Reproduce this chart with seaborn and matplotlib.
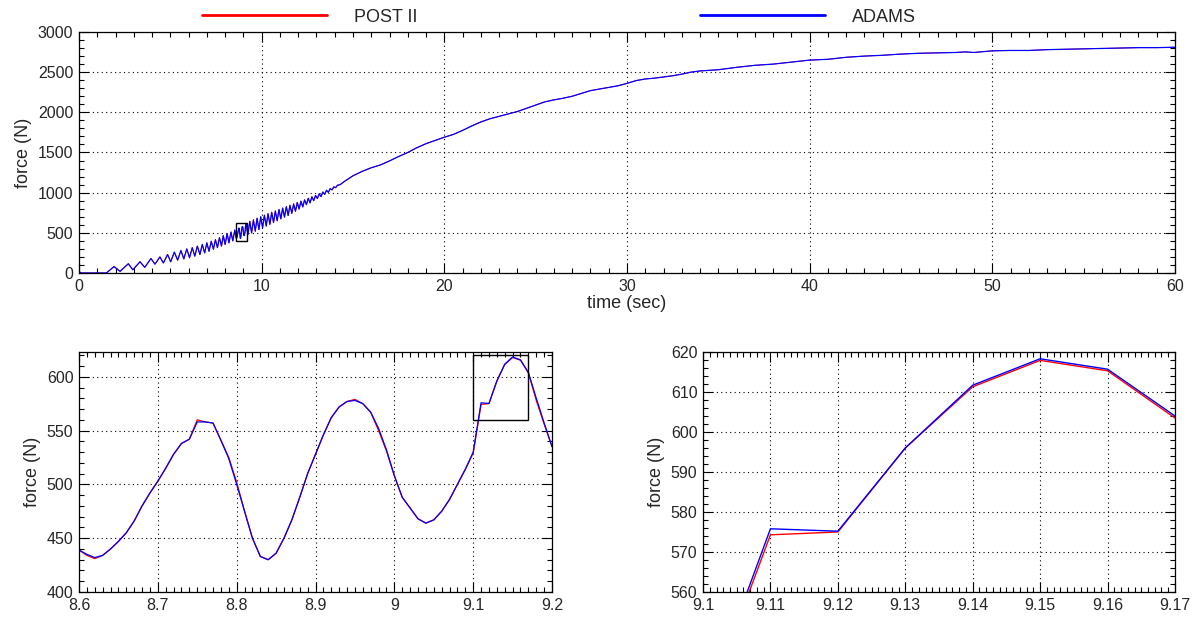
import numpy as np
import pandas as pd
import matplotlib
matplotlib.use("Agg")
import matplotlib.pyplot as plt
import seaborn as sns
from matplotlib.ticker import MultipleLocator
from matplotlib.patches import Rectangle

# ---------------- data ----------------
# top panel, before the detail window (oscillation extremes)
t_early = [0.0, 0.1, 1.5, 1.92, 2.25, 2.7, 2.95, 3.34, 3.6, 3.94, 4.16, 4.43, 4.62,
           4.85, 5.02, 5.22, 5.40, 5.58, 5.74, 5.90, 6.05, 6.20, 6.34, 6.48, 6.62,
           6.75, 6.88, 7.00, 7.12, 7.24, 7.36, 7.47, 7.58, 7.69, 7.80, 7.90, 8.00,
           8.11, 8.21, 8.32, 8.42, 8.53]
f_early = [20, 0, 0, 80, 20, 115, 40, 140, 70, 180, 110, 200, 125,
           230, 140, 260, 160, 280, 175, 300, 190, 315, 210, 335, 230,
           355, 250, 375, 270, 395, 295, 415, 315, 440, 335, 465, 355,
           490, 375, 510, 400, 535]

# detail window 8.60 .. 9.20 s (0.01 s steps)
t_detail = [8.60, 8.61, 8.62, 8.63, 8.64, 8.65, 8.66, 8.67, 8.68, 8.69,
            8.70, 8.71, 8.72, 8.73, 8.74, 8.75, 8.76, 8.77, 8.78, 8.79,
            8.80, 8.81, 8.82, 8.83, 8.84, 8.85, 8.86, 8.87, 8.88, 8.89,
            8.90, 8.91, 8.92, 8.93, 8.94, 8.95, 8.96, 8.97, 8.98, 8.99,
            9.00, 9.01, 9.02, 9.03, 9.04, 9.05, 9.06, 9.07, 9.08, 9.09,
            9.10, 9.11, 9.12, 9.13, 9.14, 9.15, 9.16, 9.17, 9.18, 9.19, 9.20]
adams_detail = [439, 435, 432, 434, 440, 447, 455, 466, 480, 492,
                503, 515, 528, 538, 542, 558, 558, 557, 541, 524,
                500, 475, 450, 433, 430, 436, 450, 467, 488, 510,
                528, 546, 562, 572, 577, 578, 575, 567, 552, 532,
                508, 488, 478, 468, 464, 467, 475, 486, 500, 514,
                530, 575.8, 575.2, 596, 611.7, 618.3, 615.7, 604.0, 580, 557, 535]
post_detail = [439, 434, 431, 434, 440, 447, 455, 466, 480, 492,
               503, 515, 528, 538, 542, 560, 558, 557, 541, 525,
               502, 475, 450, 433, 430, 436, 450, 467, 488, 510,
               528, 546, 562, 572, 577, 579, 575, 567, 550, 531,
               508, 488, 478, 468, 464, 467, 475, 486, 500, 514,
               529, 574.3, 575.0, 596, 611.3, 617.9, 615.3, 603.5, 578, 556, 535]

# top panel, after the detail window
t_late = [9.25, 9.35, 9.45, 9.55, 9.65, 9.75, 9.85, 9.95, 10.05, 10.15, 10.25, 10.35,
          10.45, 10.55, 10.65, 10.75, 10.85, 10.95, 11.05, 11.15, 11.25, 11.35, 11.45,
          11.55, 11.65, 11.75, 11.85, 11.95, 12.05, 12.15, 12.25, 12.35, 12.45, 12.55,
          12.65, 12.75, 12.85, 12.95, 13.05, 13.15, 13.25, 13.35, 13.45, 13.55, 13.65,
          13.75, 13.85, 13.95, 14.05, 14.15, 14.3, 14.5, 14.8, 15.0, 15.5, 16.0, 16.5,
          17.0, 17.5, 18.0, 18.5, 19.0, 19.5, 20.0, 20.5, 21.0, 21.5, 22.0, 22.5, 23.0,
          23.5, 24.0, 24.5, 25.0, 25.5, 26.0, 26.5, 27.0, 27.5, 28.0, 28.5, 29.0, 29.5,
          30.0, 30.5, 31.0, 31.5, 32.0, 32.5, 33.0, 33.5, 34.0, 35.0, 36.0, 37.0, 38.0,
          39.0, 40.0, 41.0, 42.0, 43.0, 44.0, 45.0, 46.0, 47.0, 48.0, 48.5, 49.0, 50.0,
          51.0, 52.0, 53.0, 54.0, 55.0, 56.0, 57.0, 58.0, 59.0, 60.0]
f_late = [479, 643, 499, 662, 520, 682, 540, 700, 562, 719, 584, 738,
          605, 755, 628, 772, 650, 790, 674, 808, 695, 826, 716,
          843, 742, 860, 768, 878, 796, 894, 822, 910, 850, 930,
          873, 948, 900, 966, 926, 986, 951, 1008, 978, 1030, 1004,
          1050, 1034, 1072, 1062, 1092, 1100, 1135, 1180, 1210, 1265, 1310, 1345,
          1395, 1450, 1500, 1560, 1610, 1650, 1690, 1725, 1775, 1830, 1880, 1920, 1950,
          1980, 2010, 2050, 2090, 2130, 2155, 2175, 2200, 2235, 2270, 2290, 2310, 2330,
          2360, 2395, 2415, 2425, 2440, 2455, 2475, 2500, 2515, 2530, 2560, 2585, 2600,
          2625, 2650, 2660, 2685, 2700, 2710, 2725, 2735, 2740, 2745, 2752, 2745, 2765,
          2770, 2770, 2780, 2785, 2790, 2795, 2800, 2805, 2805, 2810]

series_names = ["POST II", "ADAMS"]
series_colors = ["#ff0000", "#0000ff"]

# ---------------- style ----------------
sns.set_style("white")
plt.rcParams["font.family"] = ["Liberation Sans", "DejaVu Sans"]
plt.rcParams["font.size"] = 11.5

fig = plt.figure(figsize=(12.04, 6.21), dpi=100)
ax_top = fig.add_axes([0.0656, 0.5604, 0.9103, 0.3881])
ax_bl = fig.add_axes([0.0656, 0.0467, 0.3929, 0.3865])
ax_br = fig.add_axes([0.5839, 0.0467, 0.3920, 0.3865])

top_post = pd.DataFrame({"t": t_early + t_detail + t_late,
                         "f": f_early + post_detail + f_late})
top_adams = pd.DataFrame({"t": t_early + t_detail + t_late,
                          "f": f_early + adams_detail + f_late})
det_post = pd.DataFrame({"t": t_detail, "f": post_detail})
det_adams = pd.DataFrame({"t": t_detail, "f": adams_detail})

for ax, (dp, da), lws in zip([ax_top, ax_bl, ax_br],
                             [(top_post, top_adams), (det_post, det_adams), (det_post, det_adams)],
                             [(0.6, 0.9), (0.9, 0.9), (1.0, 1.0)]):
    sns.lineplot(data=dp, x="t", y="f", ax=ax, color=series_colors[0], lw=lws[0],
                 estimator=None, sort=False, label=series_names[0])
    sns.lineplot(data=da, x="t", y="f", ax=ax, color=series_colors[1], lw=lws[1],
                 estimator=None, sort=False, label=series_names[1])

def style(ax, xlim, ylim, xmaj, xmin, ymaj, ymin):
    ax.set_xlim(*xlim)
    ax.set_ylim(*ylim)
    ax.xaxis.set_major_locator(MultipleLocator(xmaj))
    ax.xaxis.set_minor_locator(MultipleLocator(xmin))
    ax.yaxis.set_major_locator(MultipleLocator(ymaj))
    ax.yaxis.set_minor_locator(MultipleLocator(ymin))
    ax.tick_params(which="both", direction="in", top=True, right=True,
                   bottom=True, left=True, color="black", width=0.8)
    ax.tick_params(which="major", length=7, labelsize=11.5, pad=4)
    ax.tick_params(which="minor", length=3.5)
    ax.grid(True, which="major", color="black", linestyle=(0, (1, 3)), linewidth=0.8)
    for s in ax.spines.values():
        s.set_visible(True)
        s.set_color("black")
        s.set_linewidth(0.9)
    ax.set_ylabel("force (N)", fontsize=13, labelpad=4)
    ax.set_xlabel("")
    if ax.get_legend() is not None:
        ax.get_legend().remove()

style(ax_top, (0, 60), (0, 3000), 10, 1, 500, 100)
style(ax_bl, (8.6, 9.2), (400, 623), 0.1, 0.01, 50, 10)
style(ax_br, (9.1, 9.17), (560, 620), 0.01, 0.001, 10, 2)
ax_top.set_xlabel("time (sec)", fontsize=13, labelpad=1)

ax_bl.set_xticks([8.6, 8.7, 8.8, 8.9, 9.0, 9.1, 9.2])
ax_bl.set_xticklabels(["8.6", "8.7", "8.8", "8.9", "9", "9.1", "9.2"])
ax_br.set_xticks([9.1, 9.11, 9.12, 9.13, 9.14, 9.15, 9.16, 9.17])
ax_br.set_xticklabels(["9.1", "9.11", "9.12", "9.13", "9.14", "9.15", "9.16", "9.17"])

# zoom boxes
bl_x, bl_y = ax_bl.get_xlim(), ax_bl.get_ylim()
ax_top.add_patch(Rectangle((bl_x[0], bl_y[0]), bl_x[1] - bl_x[0], bl_y[1] - bl_y[0],
                           fill=False, edgecolor="black", lw=1.0, zorder=5))
br_x, br_y = ax_br.get_xlim(), ax_br.get_ylim()
ax_bl.add_patch(Rectangle((br_x[0], br_y[0]), br_x[1] - br_x[0], br_y[1] - br_y[0],
                          fill=False, edgecolor="black", lw=1.0, zorder=5))

# legend
handles, labels = ax_top.get_legend_handles_labels()
leg = fig.legend(handles[:2], labels[:2], loc="upper center",
                 bbox_to_anchor=(559 / 1204, 1.012), ncol=2, frameon=False,
                 handlelength=6.95, handletextpad=1.5, columnspacing=15.6, fontsize=13)
for ln in leg.get_lines():
    ln.set_linewidth(2)

fig.savefig("out.png", dpi=100)
